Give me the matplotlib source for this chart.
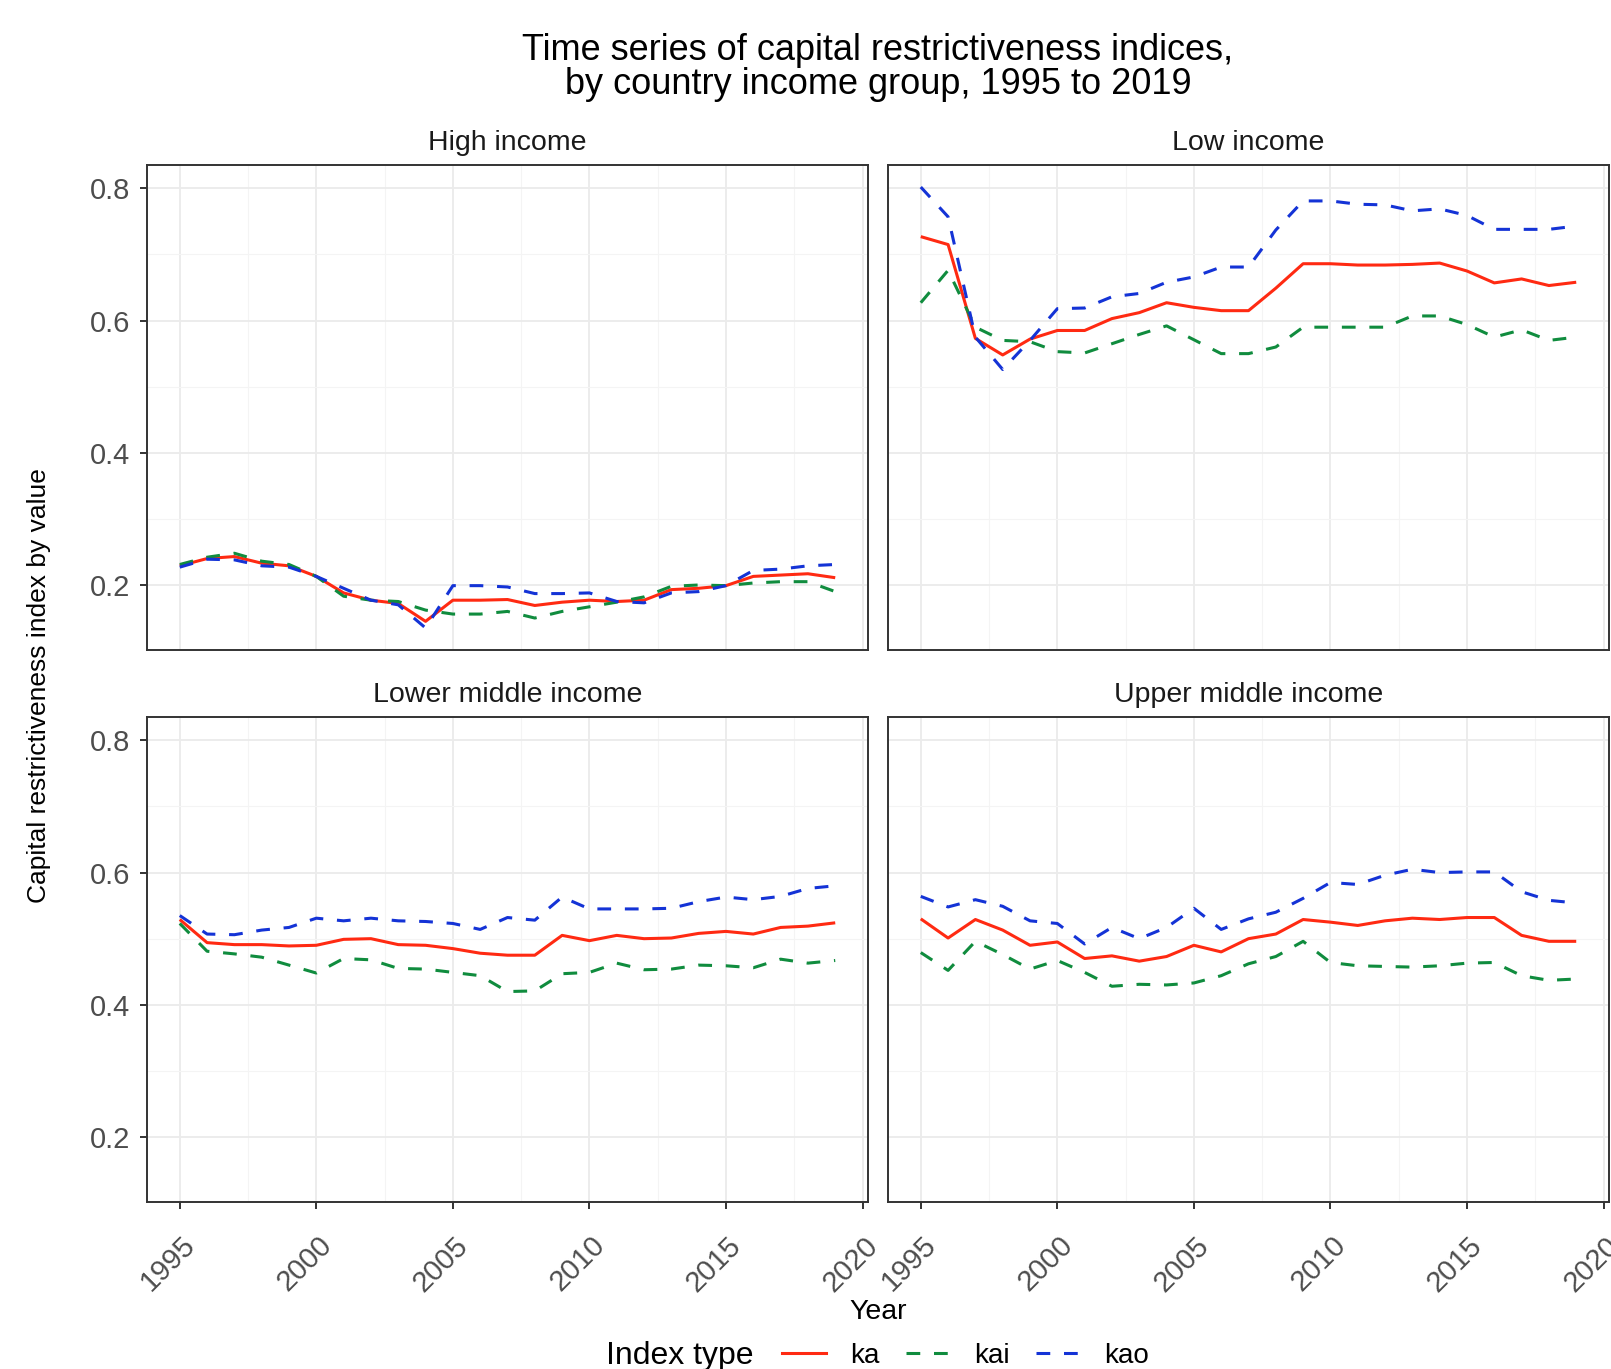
import matplotlib
matplotlib.use("Agg")
import matplotlib.pyplot as plt
from matplotlib.lines import Line2D
from matplotlib.ticker import FixedLocator
from matplotlib.transforms import ScaledTranslation

plt.rcParams['font.family'] = ['Liberation Sans', 'DejaVu Sans']

years = list(range(1995, 2020))
panels = ["High income", "Low income", "Lower middle income", "Upper middle income"]
series_names = ["ka", "kai", "kao"]

high_ka = [0.229, 0.240, 0.243, 0.233, 0.229, 0.213, 0.188, 0.177, 0.172, 0.145, 0.177, 0.177, 0.178,
           0.169, 0.174, 0.177, 0.175, 0.177, 0.193, 0.195, 0.199, 0.213, 0.215, 0.217, 0.211]
high_kai = [0.231, 0.242, 0.248, 0.236, 0.231, 0.213, 0.183, 0.177, 0.175, 0.162, 0.156, 0.156, 0.160,
            0.150, 0.160, 0.167, 0.174, 0.182, 0.198, 0.200, 0.199, 0.203, 0.205, 0.205, 0.190]
high_kao = [0.227, 0.239, 0.238, 0.229, 0.227, 0.213, 0.195, 0.177, 0.170, 0.135, 0.199, 0.199, 0.197,
            0.187, 0.187, 0.188, 0.175, 0.173, 0.188, 0.190, 0.199, 0.222, 0.224, 0.229, 0.231]

low_ka = [0.727, 0.715, 0.573, 0.548, 0.572, 0.585, 0.585, 0.603, 0.612, 0.627, 0.620, 0.615, 0.615,
          0.649, 0.686, 0.686, 0.684, 0.684, 0.685, 0.687, 0.675, 0.657, 0.663, 0.653, 0.658]
low_kai = [0.627, 0.676, 0.590, 0.570, 0.568, 0.553, 0.551, 0.565, 0.579, 0.592, 0.571, 0.550, 0.550,
           0.560, 0.590, 0.590, 0.590, 0.590, 0.607, 0.607, 0.594, 0.575, 0.586, 0.570, 0.575]
low_kao = [0.802, 0.757, 0.575, 0.526, 0.570, 0.618, 0.619, 0.636, 0.641, 0.658, 0.666, 0.681, 0.681,
           0.737, 0.781, 0.781, 0.776, 0.775, 0.766, 0.769, 0.759, 0.738, 0.738, 0.738, 0.743]

lower_ka = [0.529, 0.494, 0.491, 0.491, 0.489, 0.490, 0.499, 0.500, 0.491, 0.490, 0.485, 0.478, 0.475,
            0.475, 0.505, 0.497, 0.505, 0.500, 0.501, 0.508, 0.511, 0.507, 0.517, 0.519, 0.524]
lower_kai = [0.523, 0.481, 0.477, 0.472, 0.460, 0.448, 0.470, 0.468, 0.455, 0.454, 0.449, 0.444, 0.420,
             0.421, 0.447, 0.449, 0.463, 0.453, 0.454, 0.460, 0.459, 0.456, 0.469, 0.463, 0.467]
lower_kao = [0.535, 0.507, 0.506, 0.513, 0.517, 0.531, 0.527, 0.531, 0.527, 0.526, 0.523, 0.514, 0.532,
             0.528, 0.563, 0.545, 0.545, 0.545, 0.546, 0.556, 0.563, 0.559, 0.564, 0.576, 0.580]

upper_ka = [0.530, 0.501, 0.529, 0.513, 0.490, 0.495, 0.470, 0.474, 0.466, 0.473, 0.490, 0.480, 0.500,
            0.507, 0.529, 0.525, 0.520, 0.527, 0.531, 0.529, 0.532, 0.532, 0.505, 0.496, 0.496]
upper_kai = [0.479, 0.452, 0.496, 0.476, 0.454, 0.467, 0.449, 0.428, 0.431, 0.430, 0.433, 0.444, 0.462,
             0.473, 0.496, 0.464, 0.459, 0.458, 0.457, 0.459, 0.463, 0.464, 0.444, 0.437, 0.439]
upper_kao = [0.564, 0.548, 0.559, 0.549, 0.527, 0.523, 0.492, 0.517, 0.500, 0.517, 0.546, 0.514, 0.530,
             0.540, 0.561, 0.585, 0.582, 0.596, 0.605, 0.600, 0.601, 0.601, 0.571, 0.558, 0.554]

panel_data = {
    "High income": [high_ka, high_kai, high_kao],
    "Low income": [low_ka, low_kai, low_kao],
    "Lower middle income": [lower_ka, lower_kai, lower_kao],
    "Upper middle income": [upper_ka, upper_kai, upper_kao],
}

x_ticks = [1995, 2000, 2005, 2010, 2015, 2020]
y_ticks = [0.2, 0.4, 0.6, 0.8]

colors = {"ka": "#FF2A12", "kai": "#108C3E", "kao": "#1433D6"}
dashes = {"ka": None, "kai": (4.5, 4.5), "kao": (4.5, 4.5)}

# shared scales (ggplot-like 5% expansion)
all_vals = [v for lst in panel_data.values() for s in lst for v in s]
ymin, ymax = min(all_vals), max(all_vals)
yr = ymax - ymin
ylim = (ymin - 0.05 * yr, ymax + 0.05 * yr)
xr = years[-1] - years[0]
xlim = (years[0] - 0.05 * xr, years[-1] + 0.05 * xr)

W, H = 1611, 1369
fig = plt.figure(figsize=(W / 100, H / 100), dpi=100)

lefts = [147, 888]
tops = [165, 717]
pw, ph = 721, 485

grid_col = "#EBEBEB"
text_col = "#4D4D4D"
lw = 2.2

for i, name in enumerate(panels):
    r, c = divmod(i, 2)
    ax = fig.add_axes([lefts[c] / W, 1 - (tops[r] + ph) / H, pw / W, ph / H])
    ax.set_xlim(*xlim)
    ax.set_ylim(*ylim)
    ax.xaxis.set_major_locator(FixedLocator(x_ticks))
    ax.xaxis.set_minor_locator(FixedLocator([t + 2.5 for t in x_ticks[:-1]]))
    ax.yaxis.set_major_locator(FixedLocator(y_ticks))
    ax.yaxis.set_minor_locator(FixedLocator([0.3, 0.5, 0.7]))
    ax.grid(True, which="major", color=grid_col, linewidth=1.3)
    ax.grid(True, which="minor", color="#F4F4F4", linewidth=0.8)
    ax.set_axisbelow(True)
    for sp in ax.spines.values():
        sp.set_color("#333333")
        sp.set_linewidth(1.4)
    ax.tick_params(which="minor", length=0)
    ax.tick_params(which="major", length=5, width=1.4, color="#333333",
                   labelsize=21, labelcolor=text_col, pad=7)
    for s_idx, sname in enumerate(series_names):
        ln, = ax.plot(years, panel_data[name][s_idx], color=colors[sname], linewidth=lw,
                      solid_capstyle="butt", dash_capstyle="butt", zorder=3 + s_idx)
        if dashes[sname] is not None:
            ln.set_dashes(dashes[sname])
    if r == 0:
        ax.tick_params(axis="x", which="both", bottom=False, labelbottom=False)
    else:
        ax.set_xticks(x_ticks)
        labels = ax.set_xticklabels([str(t) for t in x_ticks], rotation=45, ha="right", va="top",
                                    rotation_mode="anchor")
        ax.tick_params(axis="x", pad=16)
        off = ScaledTranslation(0.01, 0.0, fig.dpi_scale_trans)
        for lab in labels:
            lab.set_transform(lab.get_transform() + off)
    if c == 1:
        ax.tick_params(axis="y", which="both", left=False, labelleft=False)
    else:
        ax.set_yticklabels([f"{t:.1f}" for t in y_ticks])
    fig.text((lefts[c] + pw / 2) / W, 1 - (tops[r] - 22) / H, name, ha="center", va="center",
             fontsize=20.5, color="#1A1A1A")

fig.text(878 / W, 1 - 50 / H, "Time series of capital restrictiveness indices,",
         ha="center", va="center", fontsize=26, color="black")
fig.text(878 / W, 1 - 84 / H, "by country income group, 1995 to 2019",
         ha="center", va="center", fontsize=26, color="black")

fig.text(39 / W, 1 - 686 / H, "Capital restrictiveness index by value", rotation=90,
         ha="center", va="center", fontsize=19, color="black")
fig.text(878 / W, 1 - 1312 / H, "Year", ha="center", va="center", fontsize=20.5, color="black")

# legend
fig.text(680 / W, 1 - 1356 / H, "Index type", ha="center", va="center", fontsize=23, color="black")
handles = []
for sname in series_names:
    h = Line2D([0], [0], color=colors[sname], linewidth=lw)
    if dashes[sname] is not None:
        h.set_dashes(dashes[sname])
    handles.append(h)
fig.legend(handles, series_names, loc="center left", bbox_to_anchor=(782 / W, 1 - 1356 / H),
           ncol=3, frameon=False, fontsize=20, handlelength=1.6, handletextpad=0.85,
           columnspacing=0.95, borderpad=0, borderaxespad=0)

fig.savefig("out.png", dpi=100)
